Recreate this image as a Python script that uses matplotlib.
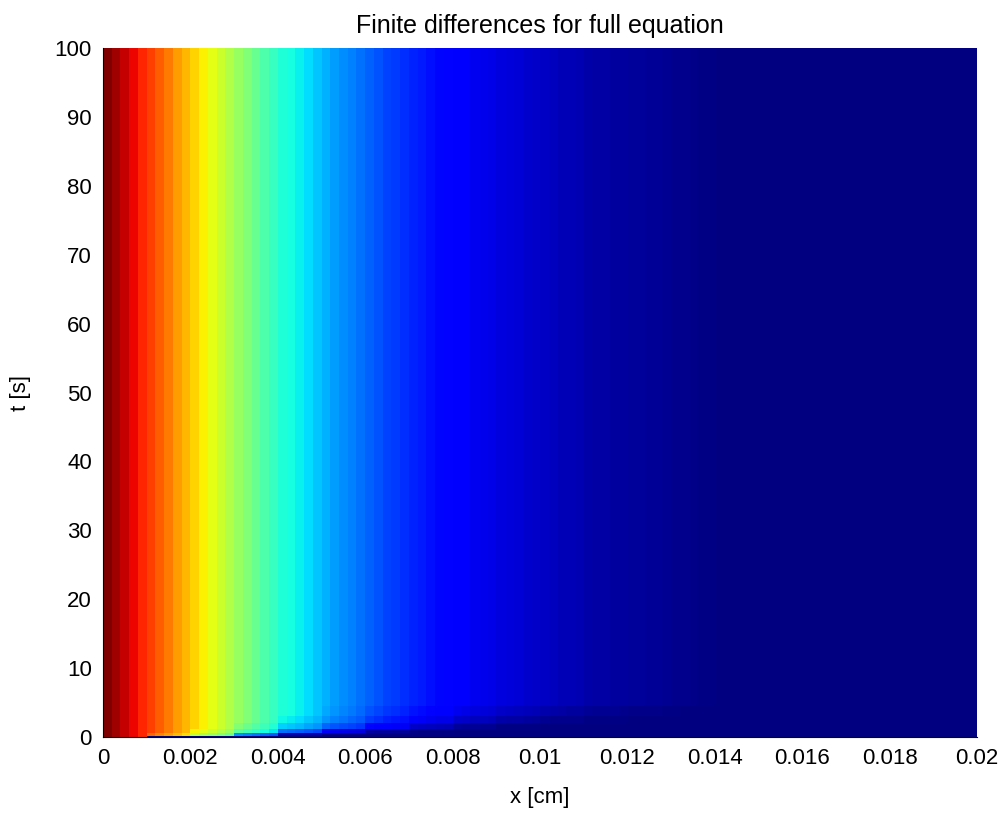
import numpy as np
import matplotlib
matplotlib.use("Agg")
import matplotlib.pyplot as plt

# grid of the finite difference solution
x_edges = np.linspace(0, 0.02, 101)          # 100 cells, dx = 0.0002 cm
t_edges = [0, 0.2, 0.6, 1.2, 2.0, 3.0, 4.5, 100]

steady = [
    1.00, 0.97, 0.94, 0.905, 0.87, 0.84, 0.81, 0.78, 0.745, 0.715,
    0.685, 0.655, 0.625, 0.595, 0.565, 0.535, 0.505, 0.475, 0.445, 0.415,
    0.39, 0.375, 0.36, 0.34, 0.32, 0.30, 0.28, 0.265, 0.25, 0.235,
    0.22, 0.205, 0.19, 0.18, 0.17, 0.16, 0.15, 0.14, 0.13, 0.125,
    0.118, 0.11, 0.10, 0.095, 0.09, 0.085, 0.08, 0.075, 0.07, 0.065,
    0.06, 0.055, 0.05, 0.047, 0.044, 0.038, 0.035, 0.032, 0.03, 0.028,
    0.026, 0.024, 0.022, 0.02, 0.018, 0.015, 0.012, 0.009, 0.006, 0.004,
    0.002, 0.001, 0.0, 0.0, 0.0, 0.0, 0.0, 0.0, 0.0, 0.0,
    0.0, 0.0, 0.0, 0.0, 0.0, 0.0, 0.0, 0.0, 0.0, 0.0,
    0.0, 0.0, 0.0, 0.0, 0.0, 0.0, 0.0, 0.0, 0.0, 0.0,
]

# fraction of the settled value reached in each early time row,
# one number per 0.001 cm block of x
early = [
    [1, 0, 0, 0, 0, 0, 0, 0, 0, 0, 0, 0, 0, 0, 0, 0, 0, 0, 0, 0],
    [1, 0.95, 0.85, 0.5, 0.1, 0, 0, 0, 0, 0, 0, 0, 0, 0, 0, 0, 0, 0, 0, 0],
    [1, 1, 0.95, 0.85, 0.6, 0.35, 0.15, 0.05, 0, 0, 0, 0, 0, 0, 0, 0, 0, 0, 0, 0],
    [1, 1, 1, 0.95, 0.85, 0.75, 0.6, 0.4, 0.2, 0.08, 0.03, 0, 0, 0, 0, 0, 0, 0, 0, 0],
    [1, 1, 1, 1, 0.95, 0.9, 0.82, 0.72, 0.58, 0.42, 0.28, 0.16, 0.08, 0.03, 0, 0, 0, 0, 0, 0],
    [1, 1, 1, 1, 1, 0.97, 0.94, 0.9, 0.84, 0.76, 0.66, 0.55, 0.42, 0.3, 0.18, 0.08, 0.03, 0, 0, 0],
    [1] * 20,
]

x_ticks = [0, 0.002, 0.004, 0.006, 0.008, 0.01, 0.012, 0.014, 0.016, 0.018, 0.02]
x_labels = ["0", "0.002", "0.004", "0.006", "0.008", "0.01", "0.012", "0.014",
            "0.016", "0.018", "0.02"]
t_ticks = [0, 10, 20, 30, 40, 50, 60, 70, 80, 90, 100]

plt.rcParams["font.family"] = ["Liberation Sans", "DejaVu Sans"]

C = np.repeat(np.array(early, dtype=float), 5, axis=1) * np.array(steady)

fig = plt.figure(figsize=(10.06, 8.18), dpi=100)
ax = fig.add_axes([0.1024, 0.099, 0.8688, 0.8423])
ax.pcolormesh(x_edges, t_edges, C, cmap="jet", vmin=0, vmax=1, shading="flat")

ax.set_xlim(0, 0.02)
ax.set_ylim(0, 100)
ax.set_xticks(x_ticks)
ax.set_xticklabels(x_labels)
ax.set_yticks(t_ticks)
ax.tick_params(length=0, labelsize=16, pad=8)
for side in ["top", "right"]:
    ax.spines[side].set_visible(False)

ax.set_title("Finite differences for full equation", fontsize=18, pad=11)
ax.set_xlabel("x [cm]", fontsize=16, labelpad=13)
ax.set_ylabel("t [s]", fontsize=16, labelpad=17)

fig.savefig("out.png", dpi=100)
